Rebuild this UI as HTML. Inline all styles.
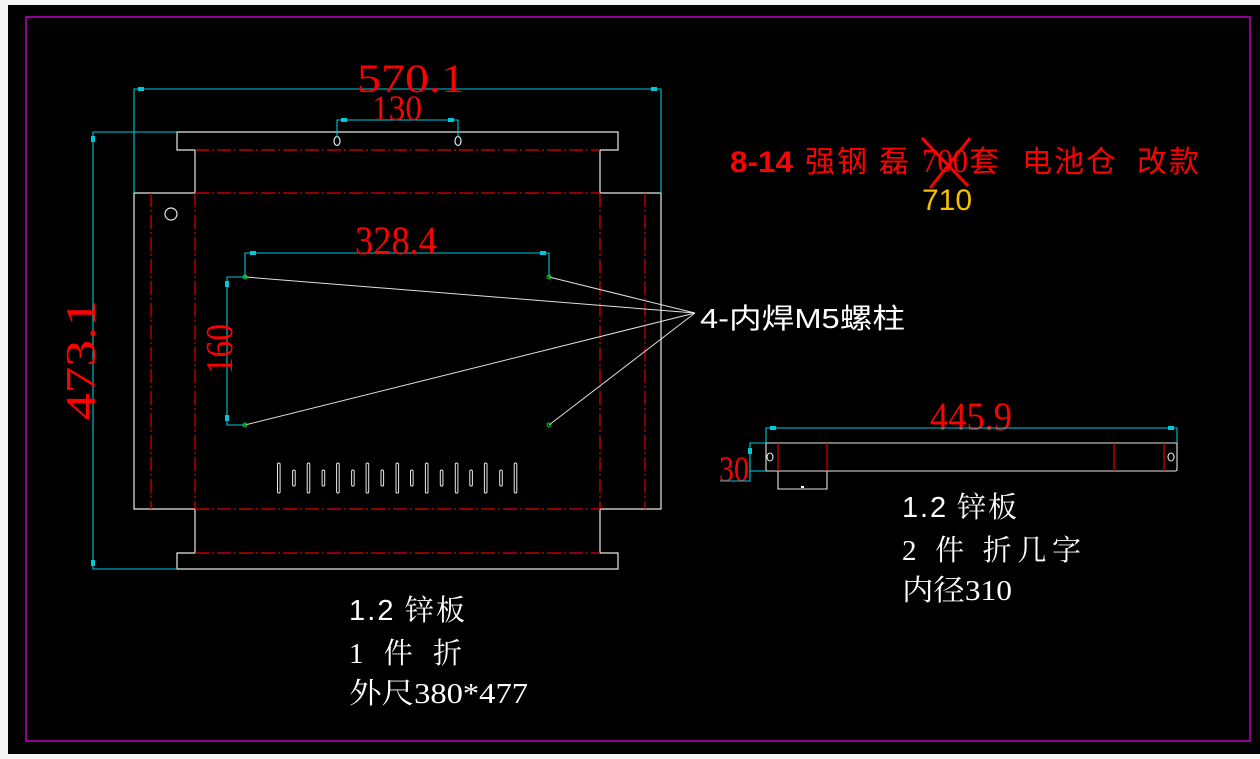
<!DOCTYPE html>
<html><head><meta charset="utf-8"><style>
html,body{margin:0;padding:0;background:#f5f5f5;width:1260px;height:759px;overflow:hidden}
svg{display:block}
</style></head><body>
<svg width="1260" height="759" viewBox="0 0 1260 759" xmlns="http://www.w3.org/2000/svg">
<rect x="8" y="5" width="1252" height="749" fill="#000"/>
<rect x="26" y="17" width="1224" height="724" fill="none" stroke="#c000c0" stroke-width="1.5"/>

<g fill="none" stroke="#e8e8e8" stroke-width="1.2">
<path d="M177,132 H618 V150 H600 V193 H661 V509 H600 V553 H618 V569 H177 V553 H195 V509 H134 V193 H195 V150 H177 Z"/>
<circle cx="171" cy="214" r="6"/>
<ellipse cx="337" cy="141" rx="3" ry="4.5"/>
<ellipse cx="458" cy="141" rx="3" ry="4.5"/>
</g>
<g fill="none" stroke="#e8e8e8" stroke-width="1">
<rect x="277.5" y="463" width="2.6" height="30" rx="1.3"/>
<rect x="292.6" y="470" width="2.6" height="16" rx="1.3"/>
<rect x="307.2" y="463" width="2.6" height="30" rx="1.3"/>
<rect x="322.1" y="470" width="2.6" height="16" rx="1.3"/>
<rect x="336.6" y="463" width="2.6" height="30" rx="1.3"/>
<rect x="351.6" y="470" width="2.6" height="16" rx="1.3"/>
<rect x="366.1" y="463" width="2.6" height="30" rx="1.3"/>
<rect x="381" y="470" width="2.6" height="16" rx="1.3"/>
<rect x="396" y="463" width="2.6" height="30" rx="1.3"/>
<rect x="410.5" y="470" width="2.6" height="16" rx="1.3"/>
<rect x="425.4" y="463" width="2.6" height="30" rx="1.3"/>
<rect x="440.3" y="470" width="2.6" height="16" rx="1.3"/>
<rect x="455.3" y="463" width="2.6" height="30" rx="1.3"/>
<rect x="469.8" y="470" width="2.6" height="16" rx="1.3"/>
<rect x="484.4" y="463" width="2.6" height="30" rx="1.3"/>
<rect x="499.7" y="470" width="2.6" height="16" rx="1.3"/>
<rect x="514.2" y="463" width="2.6" height="30" rx="1.3"/>
</g>
<g stroke="#e00000" stroke-width="1.2" stroke-dasharray="14,3,2,3" fill="none">
<line x1="195" y1="150" x2="600" y2="150"/>
<line x1="195" y1="193" x2="600" y2="193"/>
<line x1="195" y1="509" x2="600" y2="509"/>
<line x1="195" y1="553" x2="600" y2="553"/>
<line x1="151" y1="193" x2="151" y2="509"/>
<line x1="195" y1="193" x2="195" y2="509"/>
<line x1="600" y1="193" x2="600" y2="509"/>
<line x1="645" y1="193" x2="645" y2="509"/>
</g>
<g stroke="#00c8d8" stroke-width="1.1" fill="none">
<path d="M134,193 V89 H661 V193"/>
<path d="M177,132 H93 V569 H177"/>
<path d="M337,137 V120 H458 V137"/>
<path d="M245,277 V253 H549 V277"/>
<path d="M245,277 H227 V425 H245"/>
</g>
<g fill="#00c8d8">
<rect x="138" y="87" width="6" height="4"/><rect x="651" y="87" width="6" height="4"/>
<rect x="91" y="136" width="4" height="6"/><rect x="91" y="560" width="4" height="6"/>
<rect x="341" y="118" width="6" height="4"/><rect x="448" y="118" width="6" height="4"/>
<rect x="250" y="251" width="6" height="4"/><rect x="540" y="251" width="6" height="4"/>
<rect x="225" y="281" width="4" height="6"/><rect x="225" y="415" width="4" height="6"/>
</g>
<g stroke="#e0e0e0" stroke-width="1" fill="none">
<line x1="245" y1="277" x2="695" y2="313"/>
<line x1="549" y1="277" x2="695" y2="313"/>
<line x1="245" y1="425" x2="695" y2="313"/>
<line x1="549" y1="425" x2="695" y2="313"/>
</g>
<g fill="none" stroke="#00e000" stroke-width="1">
<circle cx="245" cy="277" r="2"/><circle cx="549" cy="277" r="2"/>
<circle cx="245" cy="425" r="2"/><circle cx="549" cy="425" r="2"/>
</g>
<g fill="#ff0000" font-family="Liberation Serif, serif" font-size="40">
<text x="357" y="92" textLength="108" lengthAdjust="spacingAndGlyphs">570.1</text>
<text x="372" y="120" font-size="36" textLength="50" lengthAdjust="spacingAndGlyphs">130</text>
<text x="355" y="254" textLength="82" lengthAdjust="spacingAndGlyphs">328.4</text>
<text transform="translate(232,374) rotate(-90)" font-size="38" textLength="50" lengthAdjust="spacingAndGlyphs">160</text>
<text transform="translate(95,420) rotate(-90)" font-size="42" textLength="120" lengthAdjust="spacingAndGlyphs">473.1</text>
<text x="930" y="430" textLength="82" lengthAdjust="spacingAndGlyphs">445.9</text>
<text x="719" y="481" font-size="36" textLength="30" lengthAdjust="spacingAndGlyphs">30</text>
</g>
<text x="700" y="328" fill="#fff" font-family="Liberation Sans, 'Noto Sans CJK SC', sans-serif" font-size="28" textLength="205" lengthAdjust="spacingAndGlyphs">4-内焊M5螺柱</text>

<g fill="none" stroke="#e8e8e8" stroke-width="1.1">
<path d="M766,443 H1177 V469 Q1177,471 1175,471 H766 Z"/>
<path d="M778,471 V489 H827 V471"/>
<ellipse cx="770" cy="457" rx="3" ry="4"/>
<ellipse cx="1171" cy="457" rx="3" ry="4"/>
</g>
<rect x="801" y="486" width="3" height="2" fill="#fff"/>
<g stroke="#e00000" stroke-width="1.2">
<line x1="778" y1="443" x2="778" y2="471"/><line x1="827" y1="443" x2="827" y2="471"/>
<line x1="1114" y1="443" x2="1114" y2="471"/><line x1="1164" y1="443" x2="1164" y2="471"/>
</g>
<g stroke="#00c8d8" stroke-width="1.1" fill="none">
<path d="M766,443 V428 H1177 V443"/>
<path d="M766,443 H750 V481 H720"/>
<path d="M766,471 H750"/>
</g>
<g fill="#00c8d8"><rect x="770" y="426" width="6" height="4"/><rect x="1168" y="426" width="6" height="4"/><rect x="748" y="448" width="4" height="6"/></g>

<g fill="#fff" font-family="Liberation Serif, 'Noto Serif CJK SC', serif" font-size="29">
<text x="349" y="620" textLength="116" lengthAdjust="spacing"><tspan font-family="Liberation Sans, sans-serif">1.2</tspan> 锌板</text>
<text x="349" y="663" textLength="113" lengthAdjust="spacing">1 件 折</text>
<text x="349" y="703" textLength="179" lengthAdjust="spacingAndGlyphs">外尺380*477</text>
<text x="902" y="517" textLength="115" lengthAdjust="spacing"><tspan font-family="Liberation Sans, sans-serif">1.2</tspan> 锌板</text>
<text x="902" y="560" textLength="179" lengthAdjust="spacing">2 件 折几字</text>
<text x="902" y="600" textLength="110" lengthAdjust="spacingAndGlyphs">内径310</text>
</g>
<g fill="#ff0000" font-family="Liberation Sans, 'Noto Sans CJK SC', sans-serif" font-size="30">
<text x="730" y="172" font-weight="bold" textLength="63" lengthAdjust="spacingAndGlyphs">8-14</text>
<text x="805" y="172" textLength="62" lengthAdjust="spacing">强钢</text>
<text x="879" y="172">磊</text>
<text x="922" y="172" font-family="Liberation Serif, serif" font-size="34" textLength="46" lengthAdjust="spacingAndGlyphs">700</text>
<text x="969" y="172">套</text>
<text x="1022" y="172" textLength="94" lengthAdjust="spacing">电池仓</text>
<text x="1137" y="172" textLength="62" lengthAdjust="spacing">改款</text>
</g>
<path d="M922,138 L968,186 M970,138 L930,188" stroke="#ff0000" stroke-width="3" fill="none"/>
<text x="922" y="210" fill="#f5c000" font-family="Liberation Sans, sans-serif" font-size="30">710</text>
</svg>
</body></html>
